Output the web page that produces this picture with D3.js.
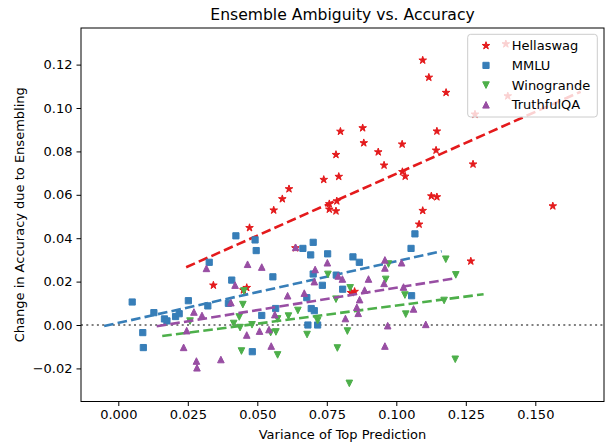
<!DOCTYPE html>
<html>
<head>
<meta charset="utf-8">
<script src="https://cdn.jsdelivr.net/npm/d3@7"></script>
<style>
  body { margin: 0; background: #fff; }
  svg { display: block; }
  text { font-family: "DejaVu Sans", sans-serif; fill: #000; }
</style>
</head>
<body>
<svg id="chart" width="605" height="444"></svg>
<script>
// ---- data: variance of top prediction (x) vs. change in accuracy (y) ----
const hellaswagX = [0.1095, 0.1117, 0.1179, 0.1394, 0.1401, 0.1283, 0.0799, 0.0879, 0.0883, 0.0783,
                    0.0935, 0.1021, 0.1146, 0.1143, 0.0956, 0.0793, 0.0739, 0.1022, 0.1032, 0.1276,
                    0.0614, 0.0590, 0.0559, 0.0759, 0.0786, 0.0759, 0.0783, 0.1126, 0.1146, 0.1095,
                    0.1563, 0.1082, 0.0472, 0.0637, 0.0342, 0.0450, 0.0462, 0.0837, 0.0850, 0.1268];
const hellaswagY = [0.1220, 0.1141, 0.1071, 0.1295, 0.1055, 0.0971, 0.0892, 0.0908, 0.0839, 0.0785,
                    0.0797, 0.0833, 0.0893, 0.0805, 0.0736, 0.0684, 0.0670, 0.0706, 0.0685, 0.0741,
                    0.0627, 0.0581, 0.0529, 0.0558, 0.0571, 0.0533, 0.0525, 0.0594, 0.0590, 0.0527,
                    0.0548, 0.0464, 0.0448, 0.0355, 0.0183, 0.0161, 0.0172, 0.0149, 0.0154, 0.0294];

const mmluX = [0.0050, 0.0088, 0.0090, 0.0128, 0.0166, 0.0175, 0.0206, 0.0219, 0.0252, 0.0322,
               0.0327, 0.0396, 0.0408, 0.0423, 0.0492, 0.0496, 0.0482, 0.0516, 0.0556, 0.0566,
               0.0664, 0.0692, 0.0701, 0.0753, 0.0678, 0.0694, 0.0705, 0.0682, 0.0717, 0.0701,
               0.0734, 0.0784, 0.0807, 0.0844, 0.0867, 0.1067, 0.1053, 0.1055];
const mmluY = [0.0106, -0.0035, -0.0104, 0.0057, 0.0028, 0.0019, 0.0039, 0.0052, 0.0112, 0.0088,
               0.0289, 0.0100, 0.0207, 0.0411, 0.0392, 0.0343, -0.0123, 0.0044, 0.0222, 0.0076,
               0.0353, 0.0323, 0.0381, 0.0328, 0.0126, 0.0076, 0.0066, 0.0000, 0.0000, 0.0235,
               0.0183, 0.0230, 0.0165, 0.0314, 0.0289, 0.0420, 0.0353, 0.0135];

const winograndeX = [0.0452, 0.0448, 0.0435, 0.0415, 0.0438, 0.0481, 0.0443, 0.0258, 0.0548, 0.0567,
                     0.0573, 0.0612, 0.0646, 0.0679, 0.0573, 0.0717, 0.0754, 0.0783, 0.0788, 0.0824,
                     0.0831, 0.0834, 0.0962, 0.0972, 0.1031, 0.1034, 0.1178, 0.1214, 0.1172, 0.1212];
const winograndeY = [0.0157, 0.0094, 0.0037, 0.0007, -0.0012, 0.0001, -0.0120, 0.0018, -0.0035, -0.0032,
                     0.0028, 0.0041, 0.0067, -0.0044, -0.0138, 0.0020, 0.0233, 0.0119, -0.0106, -0.0028,
                     -0.0269, 0.0171, 0.0210, 0.0281, 0.0138, 0.0050, 0.0303, 0.0231, 0.0113, -0.0158];

const truthfulqaX = [0.0317, 0.0465, 0.0420, 0.0405, 0.0272, 0.0301, 0.0246, 0.0235, 0.0369, 0.0281,
                     0.0283, 0.0462, 0.0508, 0.0542, 0.0550, 0.0563, 0.0609, 0.0638, 0.0516, 0.0669,
                     0.0708, 0.0705, 0.0752, 0.0791, 0.0806, 0.0900, 0.0886, 0.0868, 0.0858, 0.0863,
                     0.0817, 0.0959, 0.0959, 0.0956, 0.1019, 0.1026, 0.1062, 0.0969, 0.1106, 0.0959];
const truthfulqaY = [0.0261, 0.0280, 0.0184, 0.0103, 0.0060, 0.0044, -0.0026, -0.0103, -0.0159, -0.0166,
                     -0.0197, -0.0046, -0.0028, -0.0021, -0.0097, 0.0048, 0.0135, 0.0358, 0.0267, 0.0147,
                     0.0256, 0.0200, 0.0287, 0.0226, 0.0212, 0.0212, 0.0161, 0.0117, 0.0082, 0.0054,
                     0.0030, 0.0300, 0.0263, 0.0192, 0.0287, 0.0175, 0.0074, -0.0003, 0.0003, -0.0097];

const seriesNames = ["Hellaswag", "MMLU", "Winogrande", "TruthfulQA"];

// least-squares fit lines per series (start / end points)
const fitStartX = [0.0244, -0.0051, 0.0158, 0.0138];
const fitStartY = [0.0266, -0.0005, -0.0051, -0.0006];
const fitEndX   = [0.1663, 0.1163, 0.1314, 0.1205];
const fitEndY   = [0.1075, 0.0340, 0.0142, 0.0214];

const xTicks = [0.000, 0.025, 0.050, 0.075, 0.100, 0.125, 0.150];
const yTicks = [-0.02, 0.00, 0.02, 0.04, 0.06, 0.08, 0.10, 0.12];

// ---- layout ----
const W = 605, H = 444;
const plot = { left: 81, right: 604, top: 28, bottom: 401.5 };
const colors = ["#e41a1c", "#377eb8", "#4daf4a", "#984ea3"];
const shapes = ["star", "square", "down", "up"];

const xScale = d3.scaleLinear().domain([-0.01342, 0.17471]).range([plot.left, plot.right]);
const yScale = d3.scaleLinear().domain([-0.03525, 0.13687]).range([plot.bottom, plot.top]);

const svg = d3.select("#chart");

// marker outlines centred on the origin
function markerPath(shape) {
  if (shape === "star") {
    const R = 4.0, r = R * 0.381966;
    const pts = d3.range(10).map(i => {
      const a = -Math.PI / 2 + i * Math.PI / 5;
      const rad = i % 2 === 0 ? R : r;
      return [rad * Math.cos(a), rad * Math.sin(a)];
    });
    return "M" + pts.map(p => p.join(",")).join("L") + "Z";
  }
  if (shape === "square") {
    const h = 3.1;
    return `M${-h},${-h}L${h},${-h}L${h},${h}L${-h},${h}Z`;
  }
  const h = 3.3;
  if (shape === "down") return `M0,${h}L${-h},${-h}L${h},${-h}Z`;
  return `M0,${-h}L${-h},${h}L${h},${h}Z`;
}

const clip = svg.append("defs").append("clipPath").attr("id", "plotClip")
  .append("rect")
  .attr("x", plot.left).attr("y", plot.top)
  .attr("width", plot.right - plot.left).attr("height", plot.bottom - plot.top);

const body = svg.append("g").attr("clip-path", "url(#plotClip)");

// zero reference line
body.append("line")
  .attr("x1", plot.left).attr("x2", plot.right)
  .attr("y1", yScale(0)).attr("y2", yScale(0))
  .attr("stroke", "#808080").attr("stroke-width", 2)
  .attr("stroke-dasharray", "2,3.3");

const seriesX = [hellaswagX, mmluX, winograndeX, truthfulqaX];
const seriesY = [hellaswagY, mmluY, winograndeY, truthfulqaY];

seriesNames.forEach((name, i) => {
  const pts = seriesX[i].map((x, j) => ({ x, y: seriesY[i][j] }));
  body.append("g")
    .selectAll("path")
    .data(pts)
    .join("path")
    .attr("d", markerPath(shapes[i]))
    .attr("transform", d => `translate(${xScale(d.x)},${yScale(d.y)})`)
    .attr("fill", colors[i])
    .attr("stroke", colors[i])
    .attr("stroke-width", 1)
    .attr("stroke-linejoin", "miter");

  body.append("line")
    .attr("x1", xScale(fitStartX[i])).attr("y1", yScale(fitStartY[i]))
    .attr("x2", xScale(fitEndX[i])).attr("y2", yScale(fitEndY[i]))
    .attr("stroke", colors[i]).attr("stroke-width", 2.6)
    .attr("stroke-dasharray", "9.6,4.2");
});

// ---- axes ----
const xAxis = d3.axisBottom(xScale).tickValues(xTicks).tickFormat(d3.format(".3f"))
  .tickSize(4.5).tickPadding(4);
const yAxis = d3.axisLeft(yScale).tickValues(yTicks).tickFormat(d3.format(".2f"))
  .tickSize(4.5).tickPadding(4);

const gx = svg.append("g").attr("transform", `translate(0,${plot.bottom})`).call(xAxis);
const gy = svg.append("g").attr("transform", `translate(${plot.left},0)`).call(yAxis);
[gx, gy].forEach(g => {
  g.select(".domain").remove();
  g.selectAll(".tick line").attr("stroke", "#000").attr("stroke-width", 1);
  g.selectAll(".tick text").attr("font-size", 13).attr("fill", "#000")
    .style("font-family", "DejaVu Sans, sans-serif");
});

// frame
svg.append("rect")
  .attr("x", plot.left).attr("y", plot.top)
  .attr("width", plot.right - plot.left).attr("height", plot.bottom - plot.top)
  .attr("fill", "none").attr("stroke", "#000").attr("stroke-width", 1);

// titles
svg.append("text")
  .attr("x", (plot.left + plot.right) / 2).attr("y", 20)
  .attr("text-anchor", "middle").attr("font-size", 15.6)
  .text("Ensemble Ambiguity vs. Accuracy");

svg.append("text")
  .attr("x", (plot.left + plot.right) / 2).attr("y", 439)
  .attr("text-anchor", "middle").attr("font-size", 13)
  .text("Variance of Top Prediction");

svg.append("text")
  .attr("transform", `translate(23.5,${(plot.top + plot.bottom) / 2}) rotate(-90)`)
  .attr("text-anchor", "middle").attr("font-size", 13)
  .text("Change in Accuracy due to Ensembling");

// ---- legend ----
const legend = svg.append("g").attr("transform", "translate(467.7,34.3)");
legend.append("rect")
  .attr("width", 129.6).attr("height", 82.7).attr("rx", 3)
  .attr("fill", "#fff").attr("fill-opacity", 0.8)
  .attr("stroke", "#cccccc").attr("stroke-width", 1);

seriesNames.forEach((name, i) => {
  const cy = 11.4 + i * 19.7;
  legend.append("path")
    .attr("d", markerPath(shapes[i]))
    .attr("transform", `translate(18.3,${cy})`)
    .attr("fill", colors[i]).attr("stroke", colors[i]).attr("stroke-width", 1);
  legend.append("text")
    .attr("x", 44).attr("y", cy).attr("dy", "0.36em")
    .attr("font-size", 13)
    .text(name);
});
</script>
</body>
</html>
